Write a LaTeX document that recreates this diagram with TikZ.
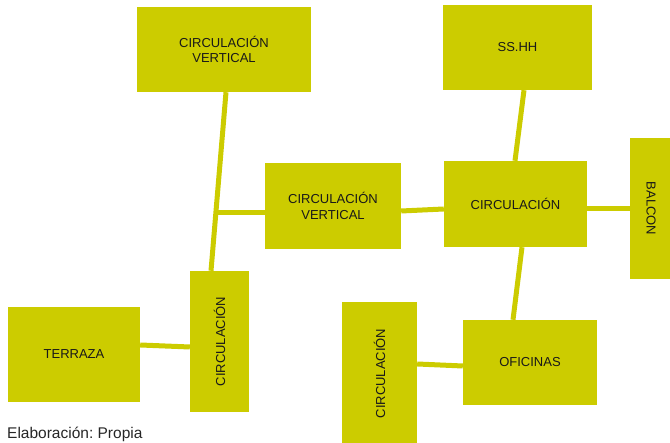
\documentclass[tikz,border=0pt]{standalone}
\usepackage{fontspec}
\setmainfont{Liberation Sans}
\frenchspacing
\definecolor{zonecolor}{RGB}{204,204,0}
\tikzset{
  zone box/.style={fill=zonecolor,align=center,inner sep=0pt,font=\fontsize{13}{15.5}\selectfont,text=black!90},
  zone link/.style={line width=5pt,draw=zonecolor},
  zone note/.style={anchor=base west,inner sep=0pt,font=\fontsize{15.5}{18}\selectfont,text=black!85}
}

\begin{document}
\begin{tikzpicture}[x=1pt,y=1pt]
  \useasboundingbox (0,0) rectangle (670,443);
  \node[zone box,minimum width=174pt,minimum height=85pt] (cvtop) at (224,393.5) {CIRCULACIÓN\\VERTICAL};
  \node[zone box,minimum width=149pt,minimum height=85pt] (sshh) at (517.5,395.5) {SS.HH};
  \node[zone box,minimum width=136pt,minimum height=86pt] (cvmid) at (333,237) {CIRCULACIÓN\\VERTICAL};
  \node[zone box,minimum width=143pt,minimum height=86pt] (circ) at (515.5,239) {CIRCULACIÓN};
  \node[zone box,minimum width=42pt,minimum height=141pt] (balcon) at (651,234.5) {\rotatebox{-90}{BALCON}};
  \node[zone box,minimum width=59pt,minimum height=141pt] (circl) at (219.5,101.5) {\rotatebox{90}{CIRCULACIÓN}};
  \node[zone box,minimum width=132pt,minimum height=95pt] (terraza) at (74,88.5) {TERRAZA};
  \node[zone box,minimum width=75pt,minimum height=143pt] (circb) at (379.5,69.5) {\rotatebox{90}{CIRCULACIÓN}};
  \node[zone box,minimum width=134pt,minimum height=85pt] (oficinas) at (530,80.5) {OFICINAS};
  \node[zone note] (source) at (7,4) {Elaboración: Propia};

  \draw[zone link] ([xshift=2pt]cvtop.south) -- coordinate[pos=0.676] (cvjoin) ([xshift=-8.5pt]circl.north);
  \draw[zone link] (cvjoin) -- (cvjoin -| cvmid.west);
  \draw[zone link] ([yshift=-5pt]cvmid.east) -- ([yshift=-5pt]circ.west);
  \draw[zone link] ([xshift=6.5pt]sshh.south) -- ([xshift=-0.5pt]circ.north);
  \draw[zone link] ([yshift=-5pt]circ.east) -- ([yshift=-0.5pt]balcon.west);
  \draw[zone link] ([xshift=6.5pt]circ.south) -- ([xshift=-17pt]oficinas.north);
  \draw[zone link] ([yshift=9.5pt]terraza.east) -- ([yshift=-5.5pt]circl.west);
  \draw[zone link] ([yshift=-3.5pt]oficinas.west) -- ([yshift=9.5pt]circb.east);
\end{tikzpicture}
\end{document}
